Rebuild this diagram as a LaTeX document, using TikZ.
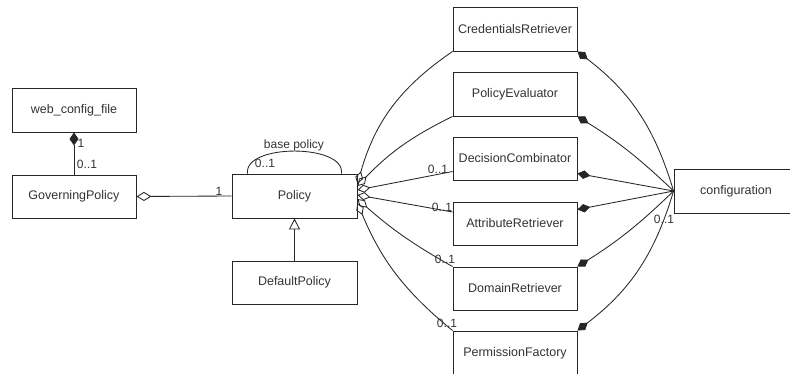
\documentclass[tikz,border=0pt]{standalone}
\usepackage{fontspec}
\setmainfont{Liberation Sans}
\usetikzlibrary{arrows.meta}
\tikzset{
  cls/.style={draw=black!85, line width=0.9pt, minimum width=124pt, minimum height=44pt, inner sep=0pt, font=\fontsize{12.5}{15}\selectfont, text=black!80},
  conn/.style={draw=black!85, line width=0.85pt},
  comp/.style={conn, {Diamond[length=13pt,width=8.5pt]}-},
  aggr/.style={conn, {Diamond[open,length=13pt,width=8pt]}-},
  lbl/.style={font=\fontsize{12}{14}\selectfont, text=black!80, inner sep=0pt},
}
\begin{document}
\begin{tikzpicture}[x=1pt,y=1pt]
\useasboundingbox (0,0) rectangle (790,-374);
\clip (0,0) rectangle (790,-374);
\fill[white] (0,0) rectangle (790,-374);
% classes
\node[cls] (web) at (74,-110) {web\_config\_file};
\node[cls, minimum height=43pt] (gov) at (74,-196.5) {GoverningPolicy};
\node[cls, minimum width=125pt] (policy) at (294.5,-196) {Policy};
\node[cls, minimum width=125pt, minimum height=43pt] (default) at (294.5,-282.5) {DefaultPolicy};
\node[cls] (cr) at (515,-29) {CredentialsRetriever};
\node[cls] (pe) at (515,-94) {PolicyEvaluator};
\node[cls, minimum height=43pt] (dc) at (515,-158.5) {DecisionCombinator};
\node[cls, minimum height=43pt] (ar) at (515,-223.5) {AttributeRetriever};
\node[cls, minimum height=43pt] (dr) at (515,-288.5) {DomainRetriever};
\node[cls] (pf) at (515,-353) {PermissionFactory};
\node[cls] (conf) at (736,-191) {configuration};
% web -- governing
\draw[conn, {Diamond[length=13pt,width=9pt]}-] (web.south) -- (gov.north);
\node[lbl] (l1) at (81,-143) {1};
\node[lbl] (l2) at (87,-164) {0..1};
% governing -- policy
\draw[conn, {Diamond[open,length=15pt,width=9pt]}-] (gov.east) -- (policy.west);
\node[lbl] (l3) at (219,-191) {1};
% generalization
\draw[conn, -{Triangle[open,length=11pt,width=11pt]}] (default.north) -- (policy.south);
% self loop
\coordinate (s1) at ([xshift=16pt]policy.north west);
\coordinate (s2) at ([xshift=-16pt]policy.north east);
\draw[conn] (s1) .. controls +(-4,30) and +(4,30) .. (s2);
\node[lbl] (bp) at (294,-145) {base policy};
\node[lbl] (l4) at (265,-163) {0..1};
% policy side endpoints
\coordinate (p1) at ([yshift=12pt]policy.east);
\coordinate (p2) at ([yshift=10pt]policy.east);
\coordinate (p3) at ([yshift=6pt]policy.east);
\coordinate (p4) at ([yshift=1pt]policy.east);
\coordinate (p5) at ([yshift=-3pt]policy.east);
\coordinate (p6) at ([yshift=-7pt]policy.east);
\draw[aggr] (p1) to[bend left=20] (cr.south west);
\draw[aggr] (p2) to[bend left=10] (pe.south west);
\draw[aggr] (p3) -- ([yshift=-13pt]dc.west);
\draw[aggr] (p4) -- ([yshift=11.5pt]ar.west);
\draw[aggr] (p5) to[bend right=6] (dr.north west);
\draw[aggr] (p6) to[bend right=14] (pf.north west);
\node[lbl] (m1) at (438,-169) {0..1};
\node[lbl] (m2) at (442,-207) {0..1};
\node[lbl] (m3) at (445,-259) {0..1};
\node[lbl] (m4) at (447,-323) {0..1};
% configuration side
\draw[comp] (cr.south east) to[bend left=18] (conf.west);
\draw[comp] (pe.south east) to[bend left=6] (conf.west);
\draw[comp] ([yshift=-15pt]dc.east) -- (conf.west);
\draw[comp] ([yshift=14pt]ar.east) -- (conf.west);
\draw[comp] (dr.north east) to[bend right=6] (conf.west);
\draw[comp] (pf.north east) to[bend right=18] (conf.west);
\node[lbl] (c1) at (664,-219) {0..1};
\end{tikzpicture}
\end{document}
